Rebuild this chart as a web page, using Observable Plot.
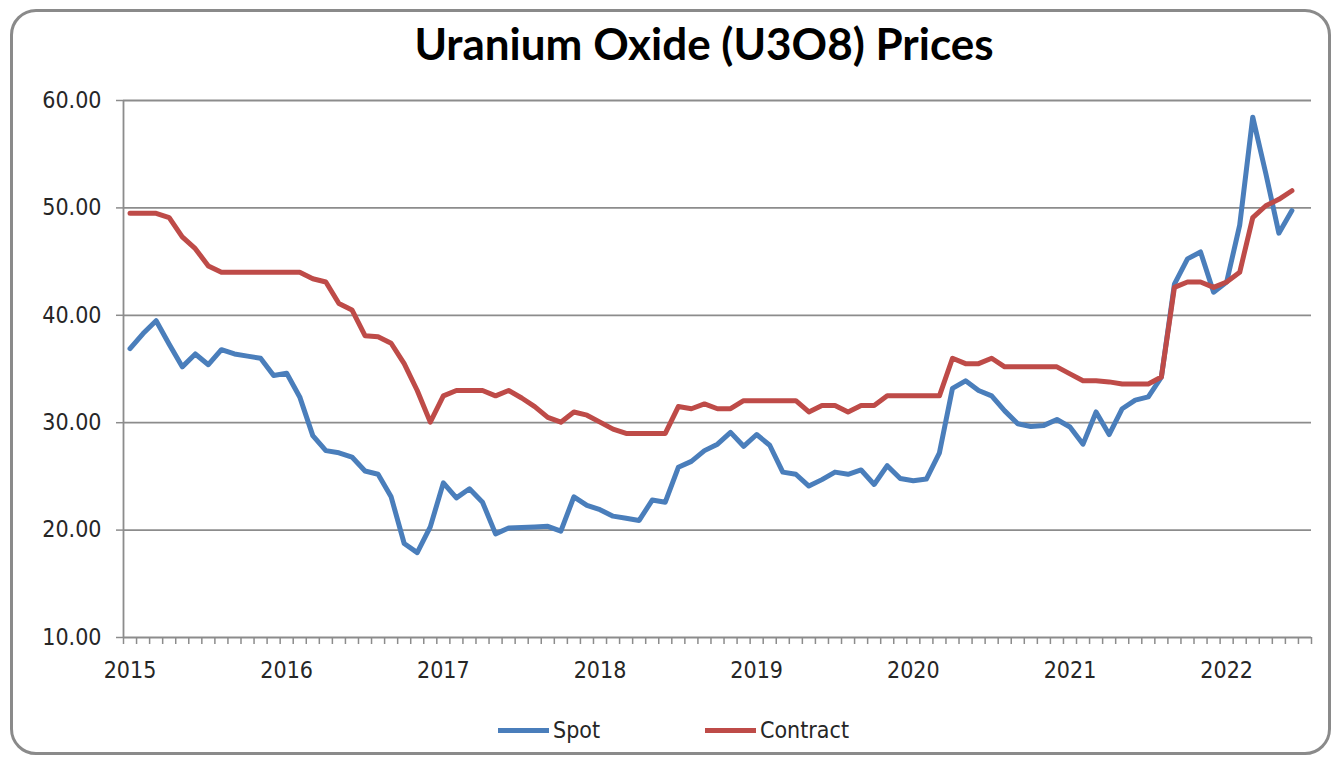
<!DOCTYPE html>
<html>
<head>
<meta charset="utf-8">
<script src="https://cdn.jsdelivr.net/npm/d3@7"></script>
<script src="https://cdn.jsdelivr.net/npm/@observablehq/plot@0.6"></script>
<style>
  html, body { margin: 0; padding: 0; background: #fff; }
  #wrap { position: relative; width: 1343px; height: 759px; overflow: hidden; background: #fff; }
  #frame { position: absolute; left: 10px; top: 9px; width: 1321px; height: 746px; box-sizing: border-box;
           border: 3px solid #8a8a8a; border-radius: 26px; }
  #title { position: absolute; top: 21px; left: 704px; transform: translateX(-50%); white-space: nowrap;
           font-family: Lato, "Open Sans", sans-serif; font-weight: 700; font-size: 44px; line-height: 44px; color: #000; }
  #chart { position: absolute; left: 0; top: 0; }
  #legend { position: absolute; top: 717px; left: 0; width: 1343px; height: 26px;
            font-family: "DejaVu Sans Condensed", "DejaVu Sans", sans-serif; font-stretch: condensed; font-size: 23px; color: #262626; }
  .item { position: absolute; top: 0; height: 26px; display: flex; align-items: center; }
  .sw { width: 51px; height: 5px; margin-right: 4px; }
</style>
</head>
<body>
<div id="wrap">
  <div id="frame"></div>
  <div id="chart"></div>
  <div id="title"></div>
  <div id="legend"></div>
</div>
<script>
// ---- data (monthly, Jan 2015 .. Jun 2022) ----
const titleText = "Uranium Oxide (U3O8) Prices";
const seriesNames = ["Spot", "Contract"];
const seriesColors = ["#4a7ebb", "#be4b48"];
const yearLabels = ["2015", "2016", "2017", "2018", "2019", "2020", "2021", "2022"];
const yTicks = [10, 20, 30, 40, 50, 60];
const monthCount = 91; // category slots on the axis (last slot empty)

const spot = [
  36.9, 38.3, 39.5, 37.3, 35.2, 36.4, 35.4, 36.8, 36.4, 36.2, 36.0, 34.4,
  34.6, 32.4, 28.8, 27.4, 27.2, 26.8, 25.5, 25.2, 23.1, 18.75, 17.9, 20.3,
  24.4, 23.0, 23.85, 22.6, 19.65, 20.2, 20.25, 20.3, 20.35, 19.9, 23.1, 22.3,
  21.9, 21.3, 21.1, 20.9, 22.8, 22.6, 25.85, 26.4, 27.4, 28.0, 29.1, 27.8,
  28.9, 27.9, 25.4, 25.2, 24.1, 24.7, 25.4, 25.2, 25.6, 24.25, 26.0, 24.8,
  24.6, 24.75, 27.2, 33.2, 33.9, 33.0, 32.5, 31.1, 29.9, 29.65, 29.75, 30.3,
  29.6, 28.0, 31.0, 28.9, 31.3, 32.1, 32.4, 34.25, 42.9, 45.25, 45.9, 42.15,
  43.1, 48.4, 58.45, 53.2, 47.65, 49.75
];
const contract = [
  49.5, 49.5, 49.5, 49.1, 47.3, 46.2, 44.6, 44.0, 44.0, 44.0, 44.0, 44.0,
  44.0, 44.0, 43.4, 43.1, 41.1, 40.5, 38.1, 38.0, 37.4, 35.5, 33.0, 30.05,
  32.5, 33.0, 33.0, 33.0, 32.5, 33.0, 32.3, 31.5, 30.5, 30.05, 31.0, 30.7,
  30.05, 29.4, 29.0, 29.0, 29.0, 29.0, 31.5, 31.3, 31.75, 31.3, 31.3, 32.05,
  32.05, 32.05, 32.05, 32.05, 31.0, 31.6, 31.6, 31.0, 31.6, 31.6, 32.5, 32.5,
  32.5, 32.5, 32.5, 36.0, 35.5, 35.5, 36.0, 35.2, 35.2, 35.2, 35.2, 35.2,
  34.55, 33.9, 33.9, 33.8, 33.6, 33.6, 33.6, 34.25, 42.6, 43.1, 43.1, 42.6,
  43.1, 44.0, 49.1, 50.2, 50.8, 51.6
];

// ---- build tables ----
const spotData = spot.map((v, i) => ({i, v}));
const contractData = contract.map((v, i) => ({i, v}));
const yearIdx = yearLabels.map((_, k) => k * 12);
const monthEdges = d3.range(monthCount + 1).map(k => k - 0.5);
const gray = "#8c8c8c";
const font = "'DejaVu Sans Condensed', 'DejaVu Sans', sans-serif";

const chart = Plot.plot({
  width: 1343,
  height: 759,
  marginLeft: 123,
  marginRight: 32,
  marginTop: 100,
  marginBottom: 122,
  x: {domain: [-0.5, monthCount - 0.5], axis: null},
  y: {domain: [10, 60], axis: null},
  style: {fontFamily: font, fontSize: "23px", fontStretch: "condensed", background: "transparent", overflow: "visible"},
  marks: [
    Plot.ruleY(yTicks.filter(d => d > 10), {stroke: gray, strokeWidth: 1.8}),
    Plot.ruleY([10], {stroke: gray, strokeWidth: 1.8}),
    Plot.ruleX([-0.5], {stroke: gray, strokeWidth: 1.8}),
    Plot.axisY({ticks: yTicks, tickSize: 7, tickFormat: () => "", stroke: gray, strokeWidth: 1.5, label: null}),
    Plot.axisY({ticks: yTicks, tickSize: 0, tickPadding: 22, tickFormat: d => d.toFixed(2), fill: "#262626", label: null}),
    Plot.axisX({ticks: monthEdges, tickSize: 7, tickFormat: () => "", stroke: gray, strokeWidth: 1.5, label: null}),
    Plot.axisX({ticks: yearIdx, tickSize: 0, tickPadding: 24, tickFormat: d => yearLabels[d / 12], fill: "#262626", label: null}),
    Plot.line(spotData, {x: "i", y: "v", stroke: seriesColors[0], strokeWidth: 5, strokeLinejoin: "round"}),
    Plot.line(contractData, {x: "i", y: "v", stroke: seriesColors[1], strokeWidth: 5, strokeLinejoin: "round"})
  ]
});
document.getElementById("chart").appendChild(chart);
document.getElementById("title").textContent = titleText;

// ---- legend ----
const legend = document.getElementById("legend");
const legendX = [498, 705];
seriesNames.forEach((name, k) => {
  const item = document.createElement("div");
  item.className = "item";
  item.style.left = legendX[k] + "px";
  const sw = document.createElement("div");
  sw.className = "sw";
  sw.style.background = seriesColors[k];
  const tx = document.createElement("span");
  tx.textContent = name;
  item.appendChild(sw);
  item.appendChild(tx);
  legend.appendChild(item);
});
</script>
</body>
</html>
